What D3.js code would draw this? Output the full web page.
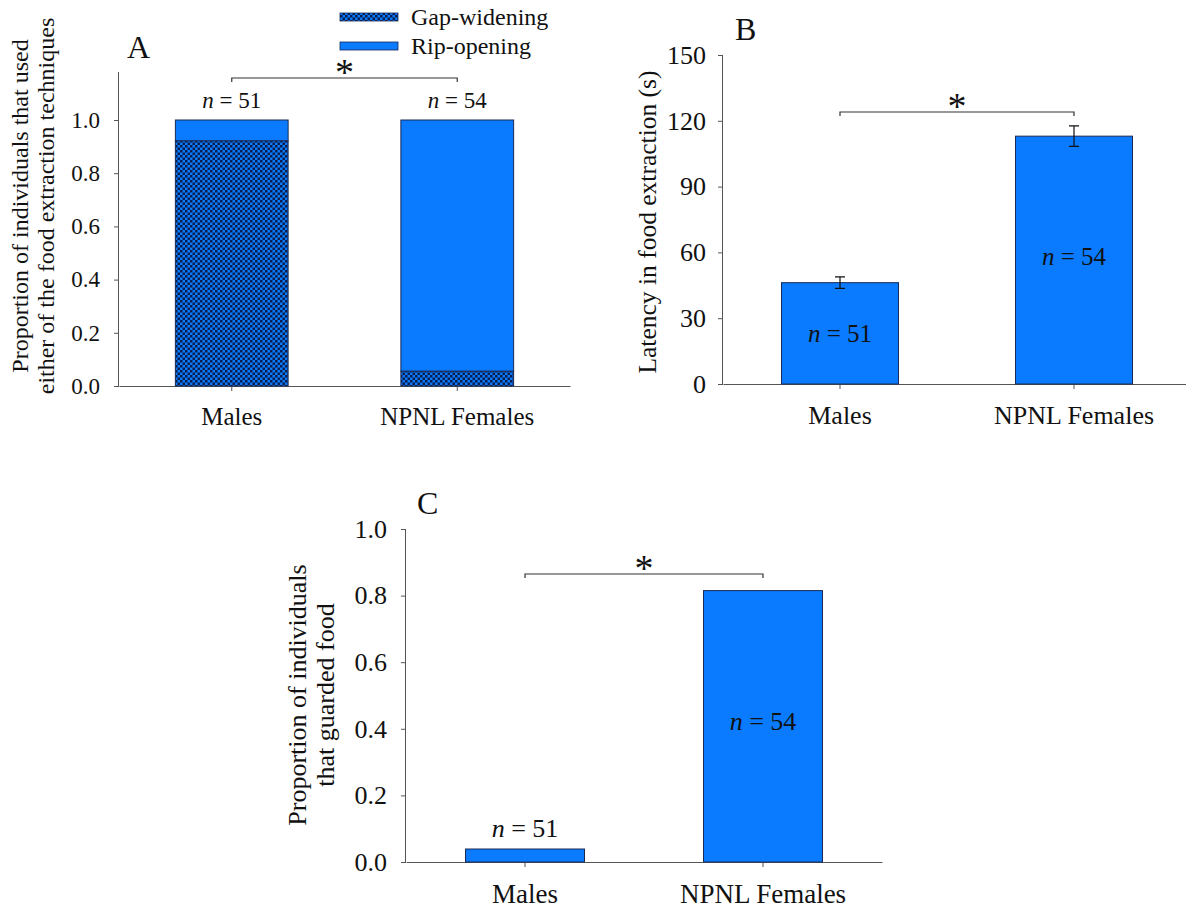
<!DOCTYPE html>
<html><head><meta charset="utf-8">
<script src="https://cdn.jsdelivr.net/npm/d3@7"></script>
<style>body{margin:0;background:#fff}svg{display:block}svg text{font-family:"Liberation Serif","Times New Roman","DejaVu Serif",serif !important;fill:#111}</style>
</head><body>
<script>
const categories = ["Males", "NPNL Females"];
const sampleSizes = ["51", "54"];
// Panel A: proportions by technique
const gapWidening = [0.922, 0.056];
const ripOpening = [0.078, 0.944];
const ticksA = [0, 0.2, 0.4, 0.6, 0.8, 1.0];
// Panel B: latency (s), mean and SE
const latencyMean = [46.2, 113.0];
const latencySE = [2.6, 4.7];
const ticksB = [0, 30, 60, 90, 120, 150];
// Panel C: proportion guarding food
const guarded = [0.039, 0.815];
const ticksC = [0, 0.2, 0.4, 0.6, 0.8, 1.0];

const SERIF = '"Liberation Serif","Times New Roman",serif';
const BLUE = "#0a7bff", DARK = "#0b1d4d", AX = "#555", EDGE = "#1a2a55";
const svg = d3.select("body").append("svg").attr("width", 1186).attr("height", 910).attr("font-family", SERIF);
const defs = svg.append("defs");
const pat = defs.append("pattern").attr("id", "hatch").attr("patternUnits", "userSpaceOnUse").attr("width", 5).attr("height", 5);
pat.append("rect").attr("width", 5).attr("height", 5).attr("fill", BLUE);
pat.append("rect").attr("x", 0).attr("y", 0).attr("width", 2.5).attr("height", 2.5).attr("fill", DARK);
pat.append("rect").attr("x", 2.5).attr("y", 2.5).attr("width", 2.5).attr("height", 2.5).attr("fill", DARK);

function panel(o) {
  const x = d3.scaleBand().domain(categories).range([o.x0, o.x1]).paddingInner(0.5).paddingOuter(0.25);
  const y = d3.scaleLinear().domain([0, o.ymax]).range([o.yb, o.yt]);
  const g = svg.append("g").attr("font-family", SERIF);
  const ya = g.append("g").attr("transform", `translate(${o.x0},0)`)
    .call(d3.axisLeft(y).tickValues(o.ticks).tickFormat(o.fmt).tickSize(5).tickPadding(o.pad));
  ya.attr("font-family", SERIF).attr("font-size", o.tickFs);
  ya.select(".domain").attr("stroke", AX).attr("d", `M-0.5,${o.yTop}V${o.yb}`);
  ya.selectAll(".tick line").attr("stroke", AX);
  ya.selectAll(".tick text").attr("fill", "#111");
  const xa = g.append("g").attr("transform", `translate(0,${o.yb})`)
    .call(d3.axisBottom(x).tickSize(5).tickPadding(o.xpad).tickSizeOuter(0));
  xa.attr("font-family", SERIF).attr("font-size", o.catFs);
  xa.select(".domain").attr("stroke", AX);
  xa.selectAll(".tick line").attr("stroke", AX);
  xa.selectAll(".tick text").attr("fill", "#111");
  o.ylab.forEach((t, i) => {
    g.append("text").attr("transform", `translate(${o.labX[i]},${o.labY}) rotate(-90)`)
      .attr("text-anchor", "middle").attr("dominant-baseline", "middle").attr("font-size", o.labFs).text(t);
  });
  g.append("text").attr("x", o.letterX).attr("y", o.letterY).attr("font-size", 32).text(o.letter);
  return {x, y, g, nFs: o.nFs};
}

function bracket(p, yPix, starY) {
  const a = p.x(categories[0]) + p.x.bandwidth() / 2, b = p.x(categories[1]) + p.x.bandwidth() / 2;
  p.g.append("path").attr("d", `M${a},${yPix + 4}V${yPix}H${b}V${yPix + 4}`).attr("fill", "none").attr("stroke", "#333").attr("stroke-width", 1.2);
  p.g.append("text").attr("x", (a + b) / 2).attr("y", starY).attr("text-anchor", "middle").attr("font-size", 38).text("*");
}

function nLabel(p, i, yPix) {
  const t = p.g.append("text").attr("x", p.x(categories[i]) + p.x.bandwidth() / 2).attr("y", yPix)
    .attr("text-anchor", "middle").attr("font-size", p.nFs);
  t.append("tspan").attr("font-style", "italic").text("n");
  t.append("tspan").text(" = " + sampleSizes[i]);
}

// ---------- Panel A ----------
const A = panel({x0: 119, x1: 570, yb: 386, yt: 120, yTop: 72, ymax: 1.0, ticks: ticksA, fmt: d3.format(".1f"), pad: 14, xpad: 16,
  tickFs: 23, catFs: 25, labFs: 24, nFs: 23,
  ylab: ["Proportion of individuals that used", "either of the food extraction techniques"], labX: [22, 48], labY: 206,
  letter: "A", letterX: 127, letterY: 58});
const stackA = categories.map((c, i) => ({c, gw: gapWidening[i], ro: ripOpening[i]}));
A.g.selectAll(".gw").data(stackA).join("rect")
  .attr("x", d => A.x(d.c)).attr("width", A.x.bandwidth())
  .attr("y", d => A.y(d.gw)).attr("height", d => A.y(0) - A.y(d.gw))
  .attr("fill", "url(#hatch)").attr("stroke", EDGE).attr("stroke-width", 1);
A.g.selectAll(".ro").data(stackA).join("rect")
  .attr("x", d => A.x(d.c)).attr("width", A.x.bandwidth())
  .attr("y", d => A.y(d.gw + d.ro)).attr("height", d => A.y(d.gw) - A.y(d.gw + d.ro))
  .attr("fill", BLUE).attr("stroke", EDGE).attr("stroke-width", 1);
nLabel(A, 0, 108); nLabel(A, 1, 108);
bracket(A, 78, 85);
const leg = [{t: "Gap-widening", f: "url(#hatch)", y: 13}, {t: "Rip-opening", f: BLUE, y: 42}];
leg.forEach(l => {
  svg.append("rect").attr("x", 340).attr("y", l.y).attr("width", 58).attr("height", 8).attr("fill", l.f).attr("stroke", EDGE).attr("stroke-width", 0.8);
  svg.append("text").attr("x", 411).attr("y", l.y + 12).attr("font-size", 24).text(l.t);
});

// ---------- Panel B ----------
const B = panel({x0: 723, x1: 1191, yb: 384, yt: 55, yTop: 55, ymax: 150, ticks: ticksB, fmt: d3.format("d"), pad: 12, xpad: 17,
  tickFs: 26, catFs: 26, labFs: 25.5, nFs: 25,
  ylab: ["Latency in food extraction (s)"], labX: [650], labY: 222,
  letter: "B", letterX: 735, letterY: 40});
const dataB = categories.map((c, i) => ({c, m: latencyMean[i], se: latencySE[i]}));
B.g.selectAll(".b").data(dataB).join("rect")
  .attr("x", d => B.x(d.c)).attr("width", B.x.bandwidth())
  .attr("y", d => B.y(d.m)).attr("height", d => B.y(0) - B.y(d.m))
  .attr("fill", BLUE).attr("stroke", EDGE).attr("stroke-width", 1);
dataB.forEach(d => {
  const cx = B.x(d.c) + B.x.bandwidth() / 2;
  const t = B.y(d.m + d.se), b = B.y(d.m - d.se);
  B.g.append("path").attr("d", `M${cx - 5},${t}H${cx + 5}M${cx},${t}V${b}M${cx - 5},${b}H${cx + 5}`)
    .attr("stroke", "#111").attr("stroke-width", 1.2).attr("fill", "none");
});
nLabel(B, 0, 342); nLabel(B, 1, 265);
bracket(B, 112, 119);

// ---------- Panel C ----------
const C = panel({x0: 406, x1: 882, yb: 862, yt: 529, yTop: 529, ymax: 1.0, ticks: ticksC, fmt: d3.format(".1f"), pad: 14, xpad: 17,
  tickFs: 26, catFs: 27, labFs: 26, nFs: 26,
  ylab: ["Proportion of individuals", "that guarded food"], labX: [300, 328], labY: 695,
  letter: "C", letterX: 417, letterY: 514});
const dataC = categories.map((c, i) => ({c, v: guarded[i]}));
C.g.selectAll(".b").data(dataC).join("rect")
  .attr("x", d => C.x(d.c)).attr("width", C.x.bandwidth())
  .attr("y", d => C.y(d.v)).attr("height", d => C.y(0) - C.y(d.v))
  .attr("fill", BLUE).attr("stroke", EDGE).attr("stroke-width", 1);
nLabel(C, 0, 837); nLabel(C, 1, 730);
bracket(C, 574, 581);
</script>
</body></html>
